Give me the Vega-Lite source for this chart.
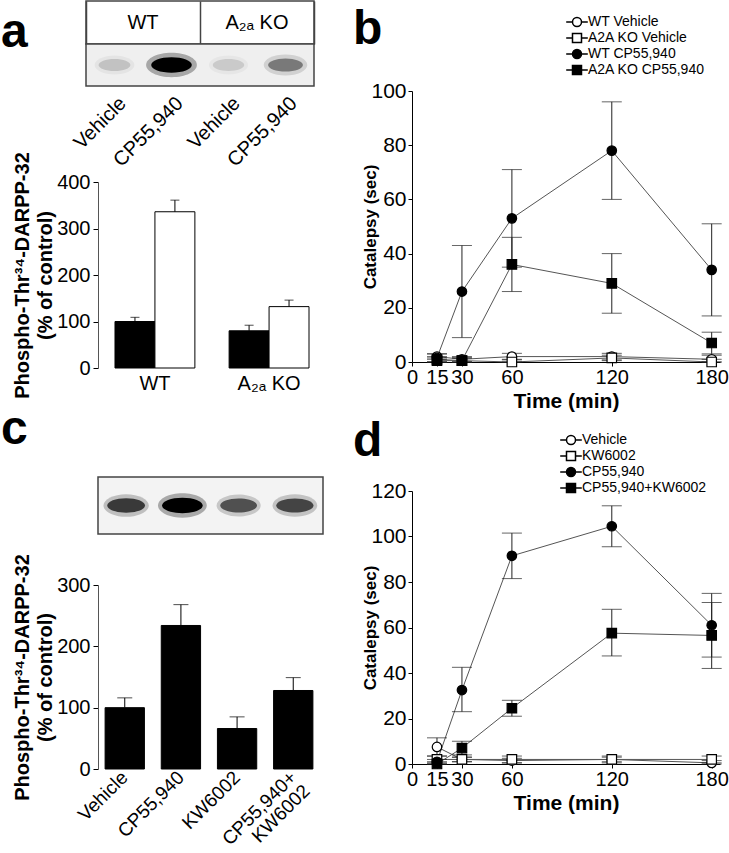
{
  "$schema": "https://vega.github.io/schema/vega-lite/v6.json",
  "padding": 0,
  "background": "white",
  "config": {
    "font": "Liberation Sans",
    "view": {"stroke": null},
    "axis": {"labelColor": "black", "titleColor": "black", "domainColor": "black", "tickColor": "black", "grid": false, "labelFont": "Liberation Sans", "titleFont": "Liberation Sans", "domainWidth": 1, "tickWidth": 1},
    "title": {"font": "Liberation Sans", "color": "black"},
    "legend": {"labelFont": "Liberation Sans", "labelColor": "black"}
  },
  "bounds": "flush",
  "spacing": 326,
  "hconcat": [
    {
      "bounds": "flush",
      "spacing": 0,
      "vconcat": [
        {
          "width": 228,
          "height": 43,
          "view": {"stroke": "#444", "strokeWidth": 1.5, "fill": "white"},
          "title": {"text": "a", "anchor": "start", "frame": "group", "fontSize": 48, "fontWeight": "bold", "dx": -85, "dy": 94, "offset": 0, "baseline": "alphabetic"},
          "data": {"values": [{"genotype": "WT"}, {"genotype": "A₂ₐ KO"}]},
          "mark": {"type": "text", "fontSize": 20, "color": "black"},
          "encoding": {
            "x": {"field": "genotype", "type": "nominal", "sort": null, "scale": {"paddingInner": 0, "paddingOuter": 0},
              "axis": {"orient": "top", "grid": true, "gridColor": "#444", "gridWidth": 1.5, "tickBand": "extent", "labels": false, "ticks": false, "domain": false, "title": null}},
            "text": {"field": "genotype"}
          }
        },
        {
          "width": 228,
          "height": 42,
          "view": {"stroke": "#444", "strokeWidth": 1.5, "fill": "#efefef"},
          "data": {"values": [
            {"lane": "WT|Vehicle", "intensity": 0.15},
            {"lane": "WT|CP55,940", "intensity": 1.0},
            {"lane": "A₂ₐ KO|Vehicle", "intensity": 0.12},
            {"lane": "A₂ₐ KO|CP55,940", "intensity": 0.42}
          ]},
          "encoding": {
            "x": {"field": "lane", "type": "nominal", "sort": null, "scale": {"paddingInner": 0, "paddingOuter": 0},
              "axis": {"orient": "bottom", "labelExpr": "split(datum.value, '|')[1]", "labelAngle": -45, "labelAlign": "right", "labelBaseline": "middle", "labelFontSize": 20, "labelPadding": 14, "labelOffset": 8, "ticks": false, "tickSize": 0, "domain": false, "title": null, "labelOverlap": false, "labelBound": false}}
          },
          "layer": [
            {
              "mark": {"type": "point", "filled": true, "color": "black", "fillOpacity": 0.3, "strokeWidth": 0, "shape": "M-1.25,0A1.25,0.6,0,1,1,1.25,0A1.25,0.6,0,1,1,-1.25,0Z"},
              "encoding": {
                "opacity": {"field": "intensity", "type": "quantitative", "scale": null, "legend": null},
                "size": {"field": "intensity", "type": "quantitative", "scale": {"domain": [0, 1], "range": [900, 1650]}, "legend": null}
              }
            },
            {
              "mark": {"type": "point", "filled": true, "color": "black", "strokeWidth": 0, "shape": "M-1,0A1,0.38,0,1,1,1,0A1,0.38,0,1,1,-1,0Z"},
              "encoding": {
                "opacity": {"field": "intensity", "type": "quantitative", "scale": null, "legend": null},
                "size": {"field": "intensity", "type": "quantitative", "scale": {"domain": [0, 1], "range": [900, 1650]}, "legend": null}
              }
            }
          ]
        },
        {"width": 1, "height": 96, "data": {"values": []}, "mark": "point"},
        {
          "width": 252,
          "height": 186,
          "data": {"values": [
            {"genotype": "WT", "treatment": "Vehicle", "value": 100, "upper": 109},
            {"genotype": "WT", "treatment": "CP55,940", "value": 336, "upper": 361},
            {"genotype": "A₂ₐ KO", "treatment": "Vehicle", "value": 80, "upper": 92},
            {"genotype": "A₂ₐ KO", "treatment": "CP55,940", "value": 132, "upper": 146}
          ]},
          "encoding": {
            "x": {"field": "genotype", "type": "nominal", "sort": null, "scale": {"paddingInner": 0.3, "paddingOuter": 0.254},
              "axis": {"title": null, "labelAngle": 0, "labelFontSize": 20, "labelPadding": 5, "ticks": false, "domain": false}},
            "xOffset": {"field": "treatment", "type": "nominal", "sort": null, "scale": {"paddingInner": 0, "paddingOuter": 0}}
          },
          "layer": [
            {
              "mark": {"type": "bar", "stroke": "black", "strokeWidth": 1},
              "encoding": {
                "y": {"field": "value", "type": "quantitative", "scale": {"domain": [0, 400], "nice": false},
                  "axis": {"values": [0, 100, 200, 300, 400], "offset": -12, "tickSize": 5, "labelFontSize": 20, "labelPadding": 3, "domainColor": "#555",
                    "title": ["Phospho-Thr³⁴-DARPP-32", "(% of control)"], "titleFontSize": 20, "titleFontWeight": "bold", "titleX": -86, "titleBaseline": "top", "titleLineHeight": 23}},
                "fill": {"field": "treatment", "type": "nominal", "sort": null, "scale": {"domain": ["Vehicle", "CP55,940"], "range": ["black", "white"]}, "legend": null}
              }
            },
            {
              "mark": {"type": "rule", "color": "black", "strokeWidth": 1},
              "encoding": {"y": {"field": "value", "type": "quantitative"}, "y2": {"field": "upper"}}
            },
            {
              "mark": {"type": "tick", "orient": "horizontal", "color": "black", "size": 9, "thickness": 1},
              "encoding": {"y": {"field": "upper", "type": "quantitative"}}
            }
          ]
        },
        {"width": 1, "height": 109, "data": {"values": []}, "mark": "point"},
        {
          "width": 249,
          "height": 57,
          "title": {"text": "c", "anchor": "start", "frame": "group", "fontSize": 48, "fontWeight": "bold", "dx": -85, "dy": 16, "offset": 0, "baseline": "alphabetic"},
          "layer": [
            {
              "data": {"values": [{"first": "Vehicle", "last": "CP55,940+KW6002"}]},
              "mark": {"type": "rect", "fill": "#f3f3f3", "stroke": "#444", "strokeWidth": 1.5},
              "encoding": {
                "x": {"field": "first", "type": "nominal", "bandPosition": 0,
                  "scale": {"domain": ["Vehicle", "CP55,940", "KW6002", "CP55,940+KW6002"], "paddingInner": 0, "paddingOuter": 0.2133}, "axis": null},
                "x2": {"field": "last", "bandPosition": 1}
              }
            },
            {
              "data": {"values": [
                {"lane": "Vehicle", "intensity": 0.7},
                {"lane": "CP55,940", "intensity": 1.0},
                {"lane": "KW6002", "intensity": 0.6},
                {"lane": "CP55,940+KW6002", "intensity": 0.65}
              ]},
              "layer": [
                {
                  "mark": {"type": "point", "filled": true, "color": "black", "fillOpacity": 0.3, "strokeWidth": 0, "shape": "M-1.2,0A1.2,0.6,0,1,1,1.2,0A1.2,0.6,0,1,1,-1.2,0Z"},
                  "encoding": {
                    "x": {"field": "lane", "type": "nominal", "axis": null},
                    "opacity": {"field": "intensity", "type": "quantitative", "scale": null, "legend": null},
                    "size": {"field": "intensity", "type": "quantitative", "scale": {"domain": [0.5, 1], "range": [1100, 2000]}, "legend": null}
                  }
                },
                {
                  "mark": {"type": "point", "filled": true, "color": "black", "strokeWidth": 0, "shape": "M-1,0A1,0.38,0,1,1,1,0A1,0.38,0,1,1,-1,0Z"},
                  "encoding": {
                    "x": {"field": "lane", "type": "nominal", "axis": null},
                    "opacity": {"field": "intensity", "type": "quantitative", "scale": null, "legend": null},
                    "size": {"field": "intensity", "type": "quantitative", "scale": {"domain": [0.5, 1], "range": [1100, 2000]}, "legend": null}
                  }
                }
              ]
            }
          ]
        },
        {"width": 1, "height": 51, "data": {"values": []}, "mark": "point"},
        {
          "width": 246,
          "height": 184,
          "data": {"values": [
            {"treatment": "Vehicle", "value": 100, "upper": 116},
            {"treatment": "CP55,940", "value": 234, "upper": 268},
            {"treatment": "KW6002", "value": 66, "upper": 85},
            {"treatment": "CP55,940+KW6002", "value": 128, "upper": 149}
          ]},
          "encoding": {
            "x": {"field": "treatment", "type": "nominal", "sort": null, "scale": {"paddingInner": 0.3, "paddingOuter": 0.34},
              "axis": {"title": null, "labelAngle": -45, "labelAlign": "right", "labelBaseline": "middle", "labelFontSize": 19, "labelPadding": 5, "labelLineHeight": 19, "ticks": false, "tickSize": 0, "domain": false, "labelOverlap": false, "labelBound": false,
                "labelExpr": "datum.value == 'CP55,940+KW6002' ? ['CP55,940+', 'KW6002'] : datum.value"}}
          },
          "layer": [
            {
              "mark": {"type": "bar", "color": "black", "stroke": "black", "strokeWidth": 1},
              "encoding": {
                "y": {"field": "value", "type": "quantitative", "scale": {"domain": [0, 300], "nice": false},
                  "axis": {"values": [0, 50, 100, 150, 200, 250, 300], "offset": -12, "tickSize": 5, "labelFontSize": 20, "labelPadding": 3, "domainColor": "#555",
                    "title": ["Phospho-Thr³⁴-DARPP-32", "(% of control)"], "titleFontSize": 20, "titleFontWeight": "bold", "titleX": -86, "titleBaseline": "top", "titleLineHeight": 23}}
              }
            },
            {
              "mark": {"type": "rule", "color": "black", "strokeWidth": 1},
              "encoding": {"y": {"field": "value", "type": "quantitative"}, "y2": {"field": "upper"}}
            },
            {
              "mark": {"type": "tick", "orient": "horizontal", "color": "black", "size": 15, "thickness": 1},
              "encoding": {"y": {"field": "upper", "type": "quantitative"}}
            }
          ]
        }
      ]
    },
    {
      "bounds": "flush",
      "spacing": 0,
      "vconcat": [
        {"width": 1, "height": 90, "data": {"values": []}, "mark": "point"},
        {
          "width": 308,
          "height": 271,
          "title": {"text": "b", "anchor": "start", "frame": "group", "fontSize": 48, "fontWeight": "bold", "dx": -59, "dy": 77, "offset": 0, "baseline": "alphabetic"},
          "data": {"values": [
            {"series": "WT Vehicle", "time": 15, "value": 2, "lo": 1, "hi": 3},
            {"series": "WT Vehicle", "time": 30, "value": 1, "lo": 0, "hi": 2},
            {"series": "WT Vehicle", "time": 60, "value": 2, "lo": 0.8, "hi": 3.2},
            {"series": "WT Vehicle", "time": 120, "value": 2, "lo": 0.8, "hi": 3.2},
            {"series": "WT Vehicle", "time": 180, "value": 1, "lo": 0, "hi": 2.5},
            {"series": "A2A KO Vehicle", "time": 15, "value": 1, "lo": 0, "hi": 2},
            {"series": "A2A KO Vehicle", "time": 30, "value": 0.5, "lo": 0, "hi": 1.5},
            {"series": "A2A KO Vehicle", "time": 60, "value": 0, "lo": 0, "hi": 1},
            {"series": "A2A KO Vehicle", "time": 120, "value": 1.5, "lo": 0.5, "hi": 2.5},
            {"series": "A2A KO Vehicle", "time": 180, "value": 0, "lo": 0, "hi": 1},
            {"series": "WT CP55,940", "time": 15, "value": 1.5, "lo": 0, "hi": 3},
            {"series": "WT CP55,940", "time": 30, "value": 26, "lo": 9, "hi": 43},
            {"series": "WT CP55,940", "time": 60, "value": 53, "lo": 35, "hi": 71},
            {"series": "WT CP55,940", "time": 120, "value": 78, "lo": 60, "hi": 96},
            {"series": "WT CP55,940", "time": 180, "value": 34, "lo": 17, "hi": 51},
            {"series": "A2A KO CP55,940", "time": 15, "value": 0.5, "lo": 0, "hi": 1.5},
            {"series": "A2A KO CP55,940", "time": 30, "value": 0.5, "lo": 0, "hi": 1.5},
            {"series": "A2A KO CP55,940", "time": 60, "value": 36, "lo": 26, "hi": 46},
            {"series": "A2A KO CP55,940", "time": 120, "value": 29, "lo": 18, "hi": 40},
            {"series": "A2A KO CP55,940", "time": 180, "value": 7, "lo": 3, "hi": 11}
          ]},
          "encoding": {
            "x": {"field": "time", "type": "quantitative", "scale": {"domain": [0, 185], "nice": false},
              "axis": {"values": [0, 15, 30, 60, 120, 180], "title": "Time (min)", "titleFontSize": 21, "titleFontWeight": "bold", "labelFontSize": 20, "tickSize": 4, "labelPadding": 1, "titlePadding": 3, "labelFlush": false, "labelOverlap": false}},
            "y": {"field": "value", "type": "quantitative", "scale": {"domain": [0, 100], "nice": false},
              "axis": {"values": [0, 20, 40, 60, 80, 100], "title": "Catalepsy (sec)", "titleFontSize": 17, "titleFontWeight": "bold", "labelFontSize": 21, "tickSize": 4, "labelPadding": 2, "titleX": -42, "titleBaseline": "middle"}}
          },
          "layer": [
            {"mark": {"type": "line", "color": "#555", "strokeWidth": 1}, "encoding": {"detail": {"field": "series"}}},
            {"mark": {"type": "rule", "color": "#222", "strokeWidth": 1}, "encoding": {"y": {"field": "lo", "type": "quantitative"}, "y2": {"field": "hi"}}},
            {"mark": {"type": "tick", "orient": "horizontal", "color": "#222", "size": 20, "thickness": 1}, "encoding": {"y": {"field": "lo", "type": "quantitative"}}},
            {"mark": {"type": "tick", "orient": "horizontal", "color": "#222", "size": 20, "thickness": 1}, "encoding": {"y": {"field": "hi", "type": "quantitative"}}},
            {
              "mark": {"type": "point", "filled": true, "stroke": "black", "strokeWidth": 1.2, "size": 90, "opacity": 1},
              "encoding": {
                "shape": {"field": "series", "type": "nominal", "scale": {"domain": ["WT Vehicle", "A2A KO Vehicle", "WT CP55,940", "A2A KO CP55,940"], "range": ["circle", "square", "circle", "square"]}, "legend": null},
                "fill": {"field": "series", "type": "nominal", "scale": {"domain": ["WT Vehicle", "A2A KO Vehicle", "WT CP55,940", "A2A KO CP55,940"], "range": ["white", "white", "black", "black"]}, "legend": null}
              }
            },
            {
              "data": {"values": []},
              "mark": {"type": "point", "filled": true, "stroke": "black", "strokeWidth": 1.3, "opacity": 1},
              "encoding": {
                "x": null, "y": null,
                "shape": {"field": "series", "type": "nominal",
                  "scale": {"domain": ["WT Vehicle", "A2A KO Vehicle", "WT CP55,940", "A2A KO CP55,940"],
                    "range": ["M-2.4,0H-1M1,0H2.4M-1,0A1,1,0,1,1,1,0A1,1,0,1,1,-1,0Z", "M-2.4,0H-1M1,0H2.4M-1,-1H1V1H-1Z", "M-2.4,0H-1M1,0H2.4M-1,0A1,1,0,1,1,1,0A1,1,0,1,1,-1,0Z", "M-2.4,0H-1M1,0H2.4M-1,-1H1V1H-1Z"]},
                  "legend": {"orient": "none", "legendX": 158, "legendY": -76, "title": null, "labelFontSize": 14, "labelOffset": 4, "symbolSize": 81, "rowPadding": 0, "padding": 0,
                    "encode": {"symbols": {"update": {"stroke": {"value": "black"}, "strokeWidth": {"value": 1.3}, "opacity": {"value": 1}}}}}},
                "fill": {"field": "series", "type": "nominal",
                  "scale": {"domain": ["WT Vehicle", "A2A KO Vehicle", "WT CP55,940", "A2A KO CP55,940"], "range": ["white", "white", "black", "black"]},
                  "legend": {"orient": "none", "legendX": 158, "legendY": -76, "title": null, "labelFontSize": 14, "labelOffset": 4, "symbolSize": 81, "rowPadding": 0, "padding": 0,
                    "encode": {"symbols": {"update": {"stroke": {"value": "black"}, "strokeWidth": {"value": 1.3}, "opacity": {"value": 1}}}}}}
              }
            }
          ],
          "resolve": {"scale": {"shape": "independent", "fill": "independent"}}
        },
        {"width": 1, "height": 129, "data": {"values": []}, "mark": "point"},
        {
          "width": 308,
          "height": 273,
          "title": {"text": "d", "anchor": "start", "frame": "group", "fontSize": 48, "fontWeight": "bold", "dx": -59, "dy": 71, "offset": 0, "baseline": "alphabetic"},
          "data": {"values": [
            {"series": "Vehicle", "time": 15, "value": 7.5, "lo": 3.5, "hi": 11.5},
            {"series": "Vehicle", "time": 30, "value": 2, "lo": 1, "hi": 3},
            {"series": "Vehicle", "time": 60, "value": 1.5, "lo": 0.5, "hi": 2.5},
            {"series": "Vehicle", "time": 120, "value": 2, "lo": 1, "hi": 3},
            {"series": "Vehicle", "time": 180, "value": 0.5, "lo": 0, "hi": 1.5},
            {"series": "KW6002", "time": 15, "value": 2, "lo": 0.5, "hi": 3.5},
            {"series": "KW6002", "time": 30, "value": 2, "lo": 1, "hi": 3},
            {"series": "KW6002", "time": 60, "value": 2, "lo": 0.5, "hi": 3.5},
            {"series": "KW6002", "time": 120, "value": 2, "lo": 0.5, "hi": 3.5},
            {"series": "KW6002", "time": 180, "value": 2, "lo": 0.5, "hi": 3.5},
            {"series": "CP55,940", "time": 15, "value": 1, "lo": 0, "hi": 2},
            {"series": "CP55,940", "time": 30, "value": 32.5, "lo": 23, "hi": 42.5},
            {"series": "CP55,940", "time": 60, "value": 91.5, "lo": 81.5, "hi": 101.5},
            {"series": "CP55,940", "time": 120, "value": 104.5, "lo": 95.5, "hi": 113.5},
            {"series": "CP55,940", "time": 180, "value": 61, "lo": 47, "hi": 75},
            {"series": "CP55,940+KW6002", "time": 15, "value": 0, "lo": 0, "hi": 1},
            {"series": "CP55,940+KW6002", "time": 30, "value": 7, "lo": 4, "hi": 10},
            {"series": "CP55,940+KW6002", "time": 60, "value": 24.5, "lo": 21, "hi": 28},
            {"series": "CP55,940+KW6002", "time": 120, "value": 57.5, "lo": 47.5, "hi": 68},
            {"series": "CP55,940+KW6002", "time": 180, "value": 56.5, "lo": 42, "hi": 71}
          ]},
          "encoding": {
            "x": {"field": "time", "type": "quantitative", "scale": {"domain": [0, 185], "nice": false},
              "axis": {"values": [0, 15, 30, 60, 120, 180], "title": "Time (min)", "titleFontSize": 21, "titleFontWeight": "bold", "labelFontSize": 20, "tickSize": 4, "labelPadding": 1, "titlePadding": 3, "labelFlush": false, "labelOverlap": false}},
            "y": {"field": "value", "type": "quantitative", "scale": {"domain": [0, 120], "nice": false},
              "axis": {"values": [0, 20, 40, 60, 80, 100, 120], "title": "Catalepsy (sec)", "titleFontSize": 17, "titleFontWeight": "bold", "labelFontSize": 21, "tickSize": 4, "labelPadding": 2, "titleX": -42, "titleBaseline": "middle"}}
          },
          "layer": [
            {"mark": {"type": "line", "color": "#555", "strokeWidth": 1}, "encoding": {"detail": {"field": "series"}}},
            {"mark": {"type": "rule", "color": "#222", "strokeWidth": 1}, "encoding": {"y": {"field": "lo", "type": "quantitative"}, "y2": {"field": "hi"}}},
            {"mark": {"type": "tick", "orient": "horizontal", "color": "#222", "size": 20, "thickness": 1}, "encoding": {"y": {"field": "lo", "type": "quantitative"}}},
            {"mark": {"type": "tick", "orient": "horizontal", "color": "#222", "size": 20, "thickness": 1}, "encoding": {"y": {"field": "hi", "type": "quantitative"}}},
            {
              "mark": {"type": "point", "filled": true, "stroke": "black", "strokeWidth": 1.2, "size": 90, "opacity": 1},
              "encoding": {
                "shape": {"field": "series", "type": "nominal", "scale": {"domain": ["Vehicle", "KW6002", "CP55,940", "CP55,940+KW6002"], "range": ["circle", "square", "circle", "square"]}, "legend": null},
                "fill": {"field": "series", "type": "nominal", "scale": {"domain": ["Vehicle", "KW6002", "CP55,940", "CP55,940+KW6002"], "range": ["white", "white", "black", "black"]}, "legend": null}
              }
            },
            {
              "data": {"values": []},
              "mark": {"type": "point", "filled": true, "stroke": "black", "strokeWidth": 1.3, "opacity": 1},
              "encoding": {
                "x": null, "y": null,
                "shape": {"field": "series", "type": "nominal",
                  "scale": {"domain": ["Vehicle", "KW6002", "CP55,940", "CP55,940+KW6002"],
                    "range": ["M-2.4,0H-1M1,0H2.4M-1,0A1,1,0,1,1,1,0A1,1,0,1,1,-1,0Z", "M-2.4,0H-1M1,0H2.4M-1,-1H1V1H-1Z", "M-2.4,0H-1M1,0H2.4M-1,0A1,1,0,1,1,1,0A1,1,0,1,1,-1,0Z", "M-2.4,0H-1M1,0H2.4M-1,-1H1V1H-1Z"]},
                  "legend": {"orient": "none", "legendX": 152, "legendY": -58, "title": null, "labelFontSize": 14, "labelOffset": 4, "symbolSize": 81, "rowPadding": 0, "padding": 0,
                    "encode": {"symbols": {"update": {"stroke": {"value": "black"}, "strokeWidth": {"value": 1.3}, "opacity": {"value": 1}}}}}},
                "fill": {"field": "series", "type": "nominal",
                  "scale": {"domain": ["Vehicle", "KW6002", "CP55,940", "CP55,940+KW6002"], "range": ["white", "white", "black", "black"]},
                  "legend": {"orient": "none", "legendX": 152, "legendY": -58, "title": null, "labelFontSize": 14, "labelOffset": 4, "symbolSize": 81, "rowPadding": 0, "padding": 0,
                    "encode": {"symbols": {"update": {"stroke": {"value": "black"}, "strokeWidth": {"value": 1.3}, "opacity": {"value": 1}}}}}}
              }
            }
          ],
          "resolve": {"scale": {"shape": "independent", "fill": "independent"}}
        }
      ]
    }
  ]
}
